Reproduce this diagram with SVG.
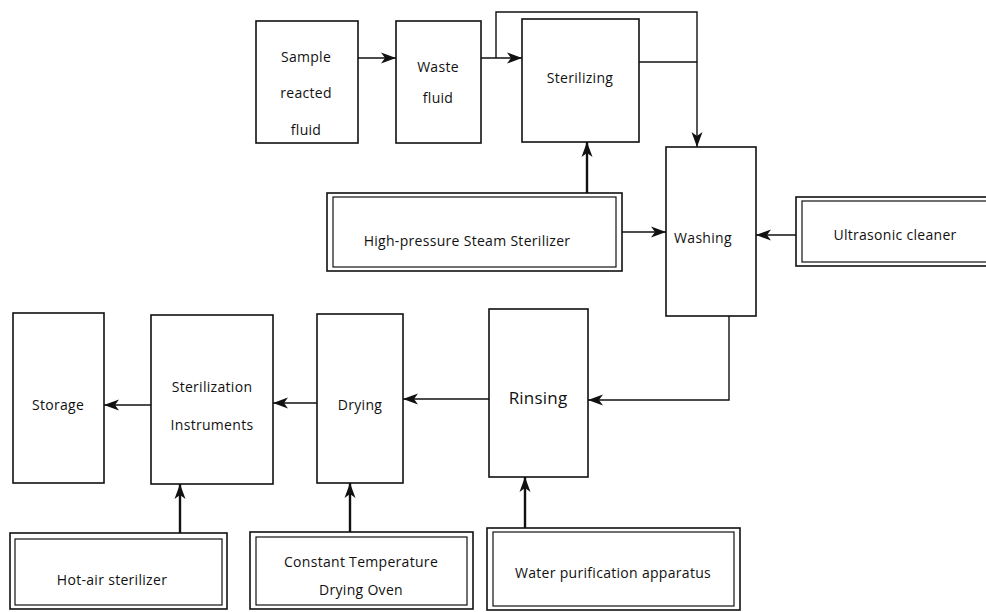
<svg xmlns="http://www.w3.org/2000/svg" width="986" height="612" viewBox="0 0 986 612">
  <style>
    .box { fill: #fff; stroke: #111; stroke-width: 1.6; }
    .inner { fill: none; stroke: #111; stroke-width: 1.2; }
    .lbl { font-family: "Open Sans", "Liberation Sans", sans-serif; font-size: 14px; letter-spacing: 0.3px; fill: #111; text-anchor: middle; }
    .big { font-size: 17px; letter-spacing: 0.2px; }
    .conn { fill: none; stroke: #111; stroke-width: 1.4; }
    .thick { stroke-width: 2.4; }
  </style>
  <defs>
    <marker id="arr" markerUnits="userSpaceOnUse" markerWidth="16" markerHeight="14" viewBox="0 0 16 14" refX="15" refY="7" orient="auto">
      <path d="M0,1.5 L15,7 L0,12.5 L4,7 Z" fill="#111"/>
    </marker>
  </defs>
  <rect width="986" height="612" fill="#fff"/>

  <!-- process steps -->
  <g id="sample">
    <rect class="box" x="256" y="21" width="102" height="122"/>
    <text class="lbl" x="306" y="62">Sample</text>
    <text class="lbl" x="306" y="98">reacted</text>
    <text class="lbl" x="306" y="135">fluid</text>
  </g>
  <g id="waste">
    <rect class="box" x="396" y="21" width="85" height="122"/>
    <text class="lbl" x="438" y="72">Waste</text>
    <text class="lbl" x="438" y="103">fluid</text>
  </g>
  <g id="sterilizing">
    <rect class="box" x="522" y="19" width="117" height="123"/>
    <text class="lbl" x="580" y="83">Sterilizing</text>
  </g>
  <g id="washing">
    <rect class="box" x="666" y="147" width="90" height="169"/>
    <text class="lbl" x="703" y="243">Washing</text>
  </g>
  <g id="rinsing">
    <rect class="box" x="489" y="309" width="99" height="168"/>
    <text class="lbl big" x="538" y="404">Rinsing</text>
  </g>
  <g id="drying">
    <rect class="box" x="317" y="314" width="86" height="169"/>
    <text class="lbl" x="360" y="410">Drying</text>
  </g>
  <g id="sterilization-instruments">
    <rect class="box" x="151" y="315" width="122" height="169"/>
    <text class="lbl" x="212" y="392">Sterilization</text>
    <text class="lbl" x="212" y="430">Instruments</text>
  </g>
  <g id="storage">
    <rect class="box" x="13" y="313" width="91" height="170"/>
    <text class="lbl" x="58" y="410">Storage</text>
  </g>

  <!-- equipment (double frame) -->
  <g id="steam-sterilizer">
    <rect class="box" x="327" y="193" width="295" height="78"/>
    <rect class="inner" x="333" y="197" width="283" height="70"/>
    <text class="lbl" x="467" y="246">High-pressure Steam Sterilizer</text>
  </g>
  <g id="ultrasonic-cleaner">
    <rect class="box" x="796" y="197" width="196" height="69"/>
    <rect class="inner" x="802" y="201" width="190" height="61"/>
    <text class="lbl" x="895" y="240">Ultrasonic cleaner</text>
  </g>
  <g id="hot-air-sterilizer">
    <rect class="box" x="10" y="533" width="217" height="76"/>
    <rect class="inner" x="15" y="539" width="207" height="66"/>
    <text class="lbl" x="112" y="585">Hot-air sterilizer</text>
  </g>
  <g id="drying-oven">
    <rect class="box" x="250" y="532" width="223" height="77"/>
    <rect class="inner" x="256" y="537" width="211" height="68"/>
    <text class="lbl" x="361" y="567">Constant Temperature</text>
    <text class="lbl" x="361" y="595">Drying Oven</text>
  </g>
  <g id="water-purifier">
    <rect class="box" x="487" y="528" width="253" height="82"/>
    <rect class="inner" x="493" y="532" width="241" height="74"/>
    <text class="lbl" x="613" y="578">Water purification apparatus</text>
  </g>

  <!-- connectors -->
  <g id="connectors">
    <path class="conn" d="M358,58 H396" marker-end="url(#arr)"/>
    <path class="conn" d="M481,58 H522" marker-end="url(#arr)"/>
    <path class="conn" d="M496,58 V12 H697 V147" marker-end="url(#arr)"/>
    <path class="conn" d="M639,62 H697"/>
    <path class="conn thick" d="M587,193 V142" marker-end="url(#arr)"/>
    <path class="conn" d="M622,232 H666" marker-end="url(#arr)"/>
    <path class="conn" d="M796,235 H756" marker-end="url(#arr)"/>
    <path class="conn" d="M729,316 V400 H588" marker-end="url(#arr)"/>
    <path class="conn" d="M489,399 H403" marker-end="url(#arr)"/>
    <path class="conn" d="M317,403 H273" marker-end="url(#arr)"/>
    <path class="conn" d="M151,405 H104" marker-end="url(#arr)"/>
    <path class="conn thick" d="M180,533 V484" marker-end="url(#arr)"/>
    <path class="conn thick" d="M350,532 V483" marker-end="url(#arr)"/>
    <path class="conn thick" d="M525,528 V477" marker-end="url(#arr)"/>
  </g>
</svg>
